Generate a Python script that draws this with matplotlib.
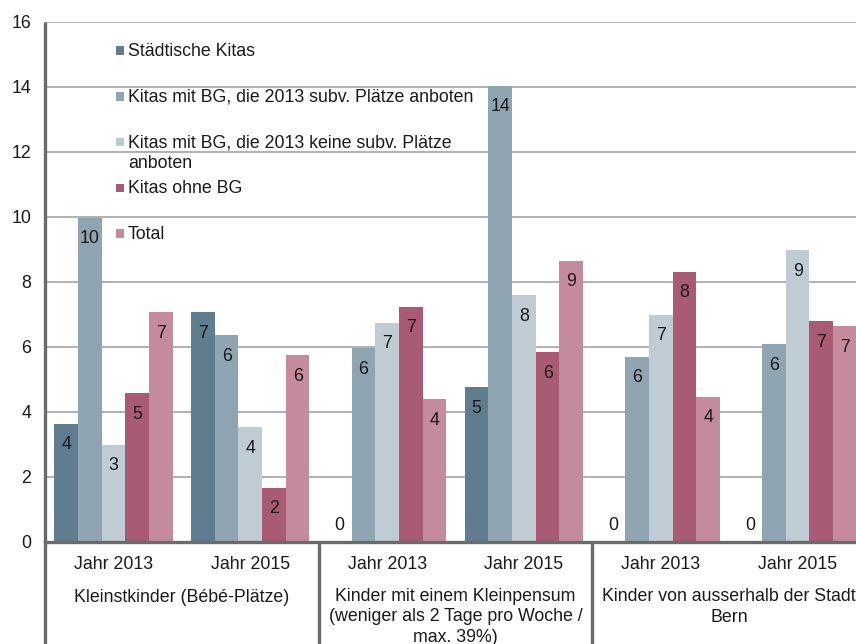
import matplotlib
matplotlib.use('Agg')
import matplotlib.pyplot as plt
from matplotlib.patches import Rectangle
from matplotlib.transforms import blended_transform_factory
import numpy as np

plt.rcParams['font.family'] = ['Liberation Sans', 'DejaVu Sans']
FS = 12.8
LINE_PX = 20.0  # line step for wrapped labels

# ---- data ----
group_labels = ['Kleinstkinder (Bébé-Plätze)',
                'Kinder mit einem Kleinpensum\n(weniger als 2 Tage pro Woche /\nmax. 39%)',
                'Kinder von ausserhalb der Stadt\nBern']
year_labels = ['Jahr 2013', 'Jahr 2015', 'Jahr 2013', 'Jahr 2015', 'Jahr 2013', 'Jahr 2015']
series_names = ['Städtische Kitas',
                'Kitas mit BG, die 2013 subv. Plätze anboten',
                'Kitas mit BG, die 2013 keine subv. Plätze\nanboten',
                'Kitas ohne BG',
                'Total']
staedtische = [3.62, 7.05, 0.0, 4.75, 0.0, 0.0]
bg_subv = [9.96, 6.35, 5.94, 14.03, 5.69, 6.07]
bg_keine = [2.98, 3.52, 6.73, 7.58, 6.98, 8.96]
ohne_bg = [4.57, 1.65, 7.23, 5.83, 8.30, 6.78]
total = [7.05, 5.73, 4.38, 8.64, 4.46, 6.62]
series_values = [staedtische, bg_subv, bg_keine, ohne_bg, total]
colors = ['#607D8F', '#8FA5B2', '#BFCCD4', '#A85B73', '#C48B9D']

# ---- figure ----
fig = plt.figure(figsize=(8.56, 6.44), dpi=100)
W, H = 856, 644
AX_H = 520.0
ax = fig.add_axes([45 / W, 102.5 / H, 821 / W, AX_H / H])

x = np.arange(len(year_labels))
bw = 0.173
for i, (vals, col) in enumerate(zip(series_values, colors)):
    pos = x + (i - 2) * bw
    ax.bar(pos, vals, width=bw, color=col, edgecolor='none', zorder=2)
    for px, v in zip(pos, vals):
        off = -18.4 if v > 0 else 8.3
        ax.annotate(f'{v:.0f}', xy=(px, v), xytext=(0, off), textcoords='offset points',
                    ha='center', va='baseline', fontsize=FS, color='#1a1a1a', zorder=3)

ax.set_xlim(-0.5, len(year_labels) - 0.5)
ax.set_ylim(0, 16)
ax.set_yticks(np.arange(0, 17, 2))
ax.yaxis.grid(True, color='#a3a3a3', linewidth=1.2)
ax.set_axisbelow(True)
ax.tick_params(axis='y', length=0, pad=10, labelsize=FS, labelcolor='#1a1a1a')
ax.tick_params(axis='x', length=0, labelbottom=False)
ax.set_xticks([])

for s in ['top', 'right', 'left']:
    ax.spines[s].set_visible(False)
ax.spines['bottom'].set_color('#6b6b6b')
ax.spines['bottom'].set_linewidth(2.4)
ax.spines['bottom'].set_zorder(4)

# left axis line extending down through category area
ax.plot([0, 0], [1, -0.25], transform=ax.transAxes, color='#6b6b6b', lw=2.4,
        clip_on=False, zorder=4, solid_capstyle='butt')

trans = blended_transform_factory(ax.transData, ax.transAxes)
# group dividers
for xd in [1.5, 3.5]:
    ax.plot([xd, xd], [0, -0.25], transform=trans, color='#6b6b6b', lw=2.4,
            clip_on=False, zorder=4, solid_capstyle='butt')


def last_baseline(first_baseline_axes, text):
    n = text.count('\n')
    return first_baseline_axes - n * LINE_PX / AX_H


# category labels
for xi, lab in zip(x, year_labels):
    ax.text(xi, -0.0529, lab, transform=trans, ha='center', va='baseline',
            fontsize=FS, color='#1a1a1a')
for gi, lab in enumerate(group_labels):
    ax.text(2 * gi + 0.5, last_baseline(-0.1158, lab), lab, transform=trans,
            ha='center', va='baseline', fontsize=FS, color='#1a1a1a',
            linespacing=1.25, multialignment='center')

# legend (manual, inside plot)
base0 = (541.5 - 56) / AX_H
step = 45.75 / AX_H
sq_w, sq_h = 8.5 / 821, 8.5 / AX_H
for k, (name, col) in enumerate(zip(series_names, colors)):
    yb = base0 - k * step
    ax.add_patch(Rectangle((70.5 / 821, yb + 1.2 / AX_H), sq_w, sq_h, transform=ax.transAxes,
                           facecolor=col, edgecolor='none', clip_on=False, zorder=5))
    ax.text(83 / 821, last_baseline(yb, name), name, transform=ax.transAxes,
            ha='left', va='baseline', fontsize=FS, color='#1a1a1a',
            linespacing=1.25, zorder=5)

fig.savefig('out.png', dpi=100)
